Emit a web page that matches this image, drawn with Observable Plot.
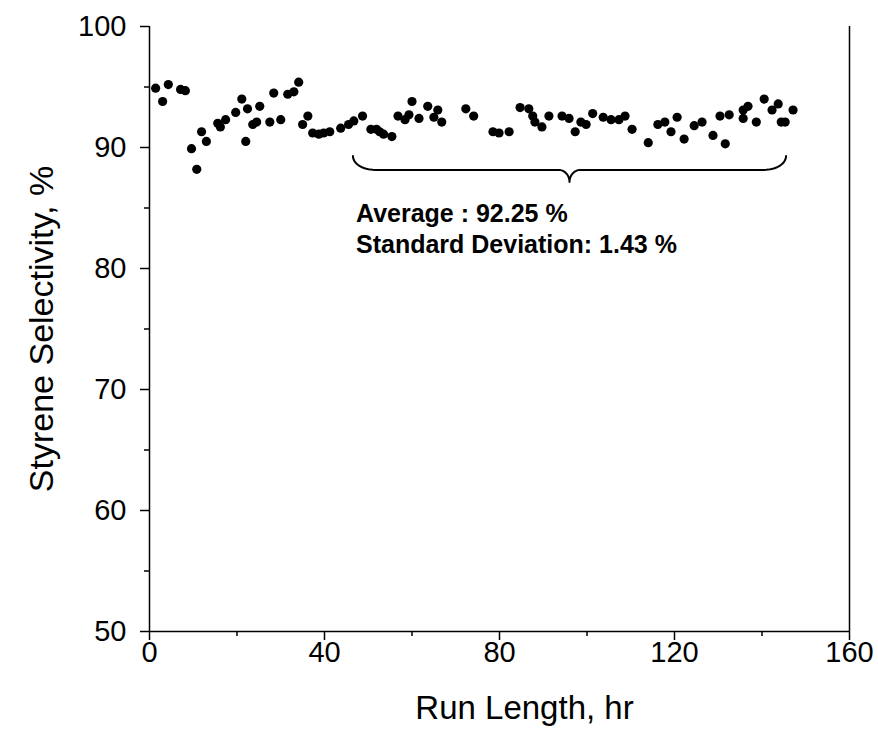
<!DOCTYPE html>
<html>
<head>
<meta charset="utf-8">
<script src="https://cdn.jsdelivr.net/npm/d3@7"></script>
<script src="https://cdn.jsdelivr.net/npm/@observablehq/plot@0.6"></script>
<style>
  html, body { margin: 0; padding: 0; background: #fff; }
</style>
</head>
<body>
<div id="chart"></div>
<script>
// Run length (hr)
const runHours = [
  1.4, 3.0, 4.3, 7.1, 8.2, 9.6, 10.8, 11.9, 13.0, 15.6,
  16.2, 17.4, 19.7, 21.1, 22.0, 22.4, 23.6, 24.5, 25.2, 27.5,
  28.4, 30.0, 31.6, 33.0, 34.1, 35.0, 36.2, 37.3, 38.7, 39.8,
  41.2, 43.7, 45.5, 46.7, 48.7, 50.6, 51.9, 52.6, 53.5, 55.4,
  56.8, 58.4, 59.3, 60.0, 61.6, 63.6, 65.0, 65.9, 66.8, 72.3,
  74.1, 78.5, 79.9, 82.2, 84.7, 86.7, 87.6, 88.1, 89.7, 91.3,
  94.3, 95.9, 97.3, 98.6, 99.8, 101.3, 103.7, 105.5, 107.3, 108.7,
  110.3, 114.0, 116.2, 117.8, 119.2, 120.6, 122.2, 124.5, 126.3, 128.8,
  130.4, 131.6, 132.5, 135.7, 135.7, 136.8, 138.7, 140.5, 142.3, 143.7,
  144.4, 145.3, 147.1
];
// Styrene selectivity (%)
const selectivity = [
  94.9, 93.8, 95.2, 94.8, 94.7, 89.9, 88.2, 91.3, 90.5, 92.0,
  91.7, 92.3, 92.9, 94.0, 90.5, 93.2, 91.9, 92.1, 93.4, 92.1,
  94.5, 92.3, 94.4, 94.6, 95.4, 91.9, 92.6, 91.2, 91.1, 91.2,
  91.3, 91.6, 91.9, 92.2, 92.6, 91.5, 91.5, 91.3, 91.1, 90.9,
  92.6, 92.3, 92.7, 93.8, 92.4, 93.4, 92.5, 93.1, 92.1, 93.2,
  92.6, 91.3, 91.2, 91.3, 93.3, 93.2, 92.6, 92.1, 91.7, 92.6,
  92.6, 92.4, 91.3, 92.1, 91.9, 92.8, 92.5, 92.3, 92.3, 92.6,
  91.5, 90.4, 91.9, 92.1, 91.3, 92.5, 90.7, 91.8, 92.1, 91.0,
  92.6, 90.3, 92.7, 93.1, 92.4, 93.4, 92.1, 94.0, 93.1, 93.6,
  92.1, 92.1, 93.1
];

const xTicks = [0, 40, 80, 120, 160];
const xMinorTicks = [20, 60, 100, 140];
const yTicks = [50, 60, 70, 80, 90, 100];
const yMinorTicks = [55, 65, 75, 85, 95];

// Brace annotation (data units): start, middle, end hours; top, mid, tip selectivity
const braceHours = [46.5, 96.0, 145.5];
const braceLevels = [89.3, 88.15, 87.15];
const braceRadiusHours = [5.0, 2.5];

const annotationLines = ["Average : 92.25 %", "Standard Deviation: 1.43 %"];
const annotationAnchor = [47.2, 85.7];

const xLabel = "Run Length, hr";
const yLabel = "Styrene Selectivity, %";

const points = runHours.map((h, i) => ({hr: h, sel: selectivity[i]}));

// Build brace path (quarter-ellipse corners joined by straight runs)
function bracePoints() {
  const [x0, xm, x1] = braceHours;
  const [yTop, yMid, yTip] = braceLevels;
  const [r1, r2] = braceRadiusHours;
  const ry1 = yTop - yMid, ry2 = yMid - yTip;
  const n = 16;
  const pts = [];
  for (let i = 0; i <= n; i++) { const t = i / n * Math.PI / 2; pts.push({x: x0 + r1 * (1 - Math.cos(t)), y: yMid + ry1 * (1 - Math.sin(t))}); }
  for (let i = 0; i <= n; i++) { const t = i / n * Math.PI / 2; pts.push({x: xm - r2 + r2 * Math.sin(t), y: yMid - ry2 * (1 - Math.cos(t))}); }
  for (let i = 0; i <= n; i++) { const t = i / n * Math.PI / 2; pts.push({x: xm + r2 * (1 - Math.cos(t)), y: yTip + ry2 * Math.sin(t)}); }
  for (let i = 0; i <= n; i++) { const t = i / n * Math.PI / 2; pts.push({x: x1 - r1 + r1 * Math.sin(t), y: yMid + ry1 * (1 - Math.cos(t))}); }
  return pts;
}

const chart = Plot.plot({
  width: 878,
  height: 754,
  marginLeft: 149,
  marginRight: 29,
  marginTop: 26,
  marginBottom: 123,
  style: {fontFamily: "'Liberation Sans', Arial, sans-serif", background: "#fff", color: "#000"},
  x: {domain: [0, 160], axis: null},
  y: {domain: [50, 100], axis: null},
  marks: [
    Plot.axisX(xTicks, {tickSize: 9, tickPadding: 1, fontSize: 29, strokeWidth: 1.5, label: null}),
    Plot.axisX(xMinorTicks, {tickSize: 5, tickFormat: () => "", strokeWidth: 1.5, label: null}),
    Plot.axisY(yTicks, {tickSize: 9, tickPadding: 14, fontSize: 29, strokeWidth: 1.5, label: null}),
    Plot.axisY(yMinorTicks, {tickSize: 5, tickFormat: () => "", strokeWidth: 1.5, label: null}),
    Plot.ruleX([0, 160], {y1: 50, y2: 100, stroke: "#000", strokeWidth: 1.5}),
    Plot.ruleY([50], {x1: 0, x2: 160, stroke: "#000", strokeWidth: 1.5}),
    Plot.line(bracePoints(), {x: "x", y: "y", stroke: "#000", strokeWidth: 2}),
    Plot.dot(points, {x: "hr", y: "sel", r: 4.6, fill: "#000", stroke: "none"}),
    Plot.text([annotationLines.join("\n")], {x: () => annotationAnchor[0], y: () => annotationAnchor[1], textAnchor: "start", lineAnchor: "top", lineHeight: 1.24, fontSize: 25, fontWeight: "bold", fill: "#000"}),
    Plot.text([xLabel], {frameAnchor: "bottom", textAnchor: "middle", lineAnchor: "middle", dx: 25, dy: 77, fontSize: 33, fill: "#000"}),
    Plot.text([yLabel], {frameAnchor: "left", textAnchor: "middle", lineAnchor: "middle", dx: -107, rotate: -90, fontSize: 34, fill: "#000"})
  ]
});
document.getElementById("chart").appendChild(chart);
</script>
</body>
</html>
